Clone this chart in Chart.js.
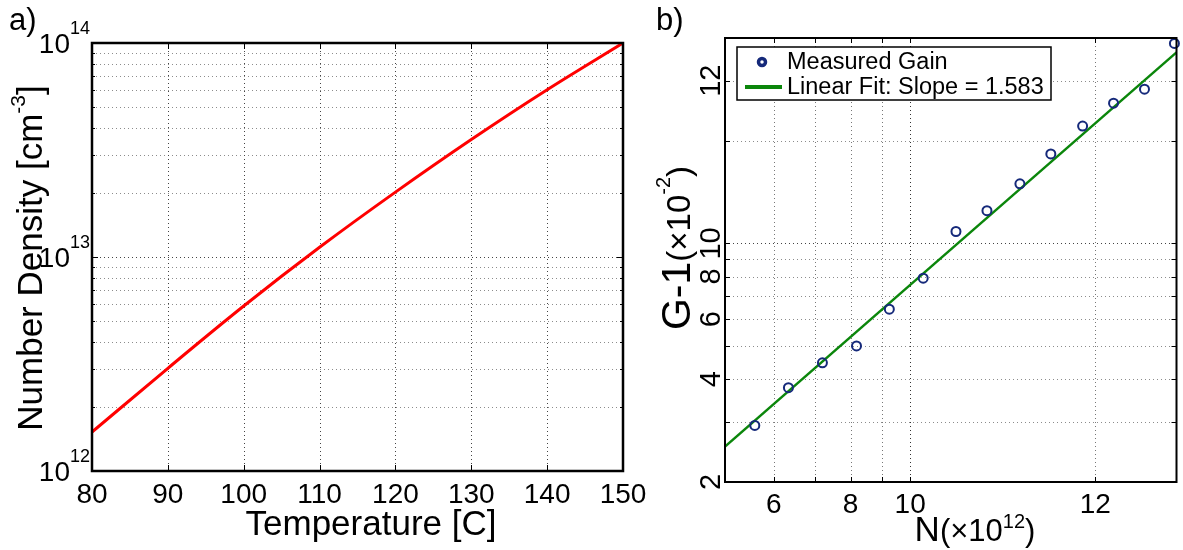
<!DOCTYPE html>
<html><head><meta charset="utf-8">
<script src="https://cdn.jsdelivr.net/npm/chart.js@4.4.1/dist/chart.umd.min.js"></script>
<style>
html,body{margin:0;padding:0;background:#fff;width:1183px;height:550px;overflow:hidden}
#ca{position:absolute;left:0;top:0}
#cb{position:absolute;left:640px;top:0}
</style></head><body>
<canvas id="ca" width="660" height="550"></canvas>
<canvas id="cb" width="543" height="550"></canvas>
<script>
// ---- panel a) data ----
const temperatureC = [80, 90, 100, 110, 120, 130, 140, 150];
const numberDensity = [1.52e12, 3.02e12, 5.9e12, 1.11e13, 2.01e13, 3.54e13, 6.05e13, 1.0e14];
const aXTicks = [80, 90, 100, 110, 120, 130, 140, 150];
const aYDecades = [1e12, 1e13, 1e14];
const aYDecadeExp = ['12', '13', '14'];
const aYMinor = [2e12, 3e12, 4e12, 5e12, 6e12, 7e12, 8e12, 9e12, 2e13, 3e13, 4e13, 5e13, 6e13, 7e13, 8e13, 9e13];

// ---- panel b) data ----
const nValues = [5.59, 6.34, 7.20, 8.18, 9.25, 10.50, 11.87, 13.33, 15.08, 16.93, 19.07, 21.41, 24.04, 26.89];
const gainValues = [2.93, 3.78, 4.47, 5.01, 6.42, 7.91, 10.84, 12.48, 14.96, 18.30, 22.08, 25.76, 28.31, 38.55];
const fitN = [5.0, 27.1];
const fitGain = [2.54, 36.3];
const bXGrid = [6, 7, 8, 9, 10, 20];
const bXTickVals = [6, 8, 10, 20];
const bXTickLabels = ['6', '8', '10', '12'];
const bYGrid = [3, 4, 5, 6, 7, 8, 9, 10, 20, 30];
const bYTickVals = [2, 4, 6, 8, 10, 30];
const bYTickLabels = ['2', '4', '6', '8', '10', '12'];

const FONT = '"Liberation Sans", Arial, Helvetica, sans-serif';
const F = s => s + 'px ' + FONT;

function richWidth(ctx, parts) {
  let w = 0;
  for (const p of parts) { ctx.font = p.f; w += ctx.measureText(p.t).width; }
  return w;
}
function drawRich(ctx, parts, x, y, align) {
  const w = richWidth(ctx, parts);
  let cx = align === 'center' ? x - w / 2 : (align === 'right' ? x - w : x);
  ctx.textAlign = 'left'; ctx.textBaseline = 'alphabetic';
  for (const p of parts) {
    ctx.font = p.f;
    ctx.fillText(p.t, cx, y + (p.dy || 0));
    cx += ctx.measureText(p.t).width;
  }
}
function seg(ctx, x1, y1, x2, y2) { ctx.beginPath(); ctx.moveTo(x1, y1); ctx.lineTo(x2, y2); ctx.stroke(); }
const crisp = v => Math.round(v) + 0.5;

const panelA = {
  id: 'panelA',
  beforeDatasetsDraw(chart) {
    const { ctx, chartArea: a, scales: { x, y } } = chart;
    ctx.save();
    ctx.lineWidth = 1; ctx.setLineDash([1, 3]);
    ctx.strokeStyle = '#8c8c8c';
    for (const v of aYMinor) { const py = crisp(y.getPixelForValue(v)); seg(ctx, a.left, py, a.right, py); }
    ctx.strokeStyle = '#444';
    for (const v of aYDecades.slice(1, -1)) { const py = crisp(y.getPixelForValue(v)); seg(ctx, a.left, py, a.right, py); }
    for (const v of aXTicks.slice(1, -1)) { const px = crisp(x.getPixelForValue(v)); seg(ctx, px, a.top, px, a.bottom); }
    ctx.restore();
  },
  afterDatasetsDraw(chart) {
    const { ctx, chartArea: a, scales: { x, y } } = chart;
    ctx.save();
    ctx.setLineDash([]);
    ctx.strokeStyle = '#000';
    ctx.lineWidth = 1;
    for (const v of aXTicks) { const px = crisp(x.getPixelForValue(v)); seg(ctx, px, a.bottom, px, a.bottom - 6); seg(ctx, px, a.top, px, a.top + 6); }
    for (const v of aYDecades) { const py = crisp(y.getPixelForValue(v)); seg(ctx, a.left, py, a.left + 6, py); seg(ctx, a.right, py, a.right - 6, py); }
    for (const v of aYMinor) { const py = crisp(y.getPixelForValue(v)); seg(ctx, a.left, py, a.left + 3, py); seg(ctx, a.right, py, a.right - 3, py); }
    ctx.lineWidth = 2.5;
    ctx.strokeRect(a.left, a.top, a.right - a.left, a.bottom - a.top);
    ctx.fillStyle = '#000';
    ctx.font = F(28); ctx.textAlign = 'center'; ctx.textBaseline = 'alphabetic';
    for (const v of aXTicks) ctx.fillText(String(v), x.getPixelForValue(v), 503);
    aYDecades.forEach((v, i) => {
      const py = y.getPixelForValue(v);
      drawRich(ctx, [{ t: '10', f: F(28) }, { t: aYDecadeExp[i], f: F(18), dy: -19 }], 90, py + 10, 'right');
    });
    drawRich(ctx, [{ t: 'Temperature [C]', f: F(35) }], 371, 535, 'center');
    ctx.save();
    ctx.translate(42, 258); ctx.rotate(-Math.PI / 2);
    drawRich(ctx, [{ t: 'Number Density [cm', f: F(35) }, { t: '-3', f: F(21), dy: -17 }, { t: ']', f: F(35) }], 0, 0, 'center');
    ctx.restore();
    ctx.font = F(31); ctx.textAlign = 'left';
    ctx.fillText('a)', 9, 30);
    ctx.restore();
  }
};

new Chart(document.getElementById('ca'), {
  type: 'line',
  data: {
    datasets: [{
      data: temperatureC.map((t, i) => ({ x: t, y: numberDensity[i] })),
      borderColor: '#ff0000', borderWidth: 3, pointRadius: 0,
      cubicInterpolationMode: 'monotone', fill: false
    }]
  },
  options: {
    responsive: false, animation: false, events: [],
    layout: { padding: { left: 92, right: 37, top: 43, bottom: 79 } },
    plugins: { legend: { display: false }, tooltip: { enabled: false } },
    scales: {
      x: { type: 'linear', min: 80, max: 150, display: false },
      y: { type: 'logarithmic', min: 1e12, max: 1e14, display: false }
    }
  },
  plugins: [panelA]
});

const NAVY = '#15297a';
const GREEN = '#0b860b';

const panelB = {
  id: 'panelB',
  beforeDatasetsDraw(chart) {
    const { ctx, chartArea: a, scales: { x, y } } = chart;
    ctx.save();
    ctx.lineWidth = 1; ctx.setLineDash([1, 3]);
    for (const v of bYGrid) { ctx.strokeStyle = v === 10 ? '#444' : '#8c8c8c'; const py = crisp(y.getPixelForValue(v)); seg(ctx, a.left, py, a.right, py); }
    for (const v of bXGrid) { ctx.strokeStyle = v === 10 ? '#333' : '#777'; const px = crisp(x.getPixelForValue(v)); seg(ctx, px, a.top, px, a.bottom); }
    ctx.restore();
  },
  afterDatasetsDraw(chart) {
    const { ctx, chartArea: a, scales: { x, y } } = chart;
    ctx.save();
    ctx.setLineDash([]);
    ctx.strokeStyle = '#000'; ctx.lineWidth = 1;
    for (const v of bXGrid) { const px = crisp(x.getPixelForValue(v)); seg(ctx, px, a.bottom, px, a.bottom - 5); seg(ctx, px, a.top, px, a.top + 5); }
    for (const v of bYGrid) { const py = crisp(y.getPixelForValue(v)); seg(ctx, a.left, py, a.left + 5, py); seg(ctx, a.right, py, a.right - 5, py); }
    ctx.lineWidth = 2;
    ctx.strokeRect(a.left, a.top, a.right - a.left, a.bottom - a.top);
    ctx.fillStyle = '#000';
    ctx.font = F(28); ctx.textAlign = 'center'; ctx.textBaseline = 'alphabetic';
    bXTickVals.forEach((v, i) => ctx.fillText(bXTickLabels[i], x.getPixelForValue(v), 513));
    bYTickVals.forEach((v, i) => {
      const py = y.getPixelForValue(v);
      ctx.save(); ctx.translate(80, py); ctx.rotate(-Math.PI / 2);
      ctx.font = F(29); ctx.textAlign = 'center'; ctx.textBaseline = 'alphabetic';
      ctx.fillText(bYTickLabels[i], 0, 0);
      ctx.restore();
    });
    drawRich(ctx, [{ t: 'N', f: F(35) }, { t: '(\u00d710', f: F(31) }, { t: '12', f: F(20), dy: -13 }, { t: ')', f: F(31) }], 335, 541, 'center');
    ctx.save();
    ctx.translate(50, 248); ctx.rotate(-Math.PI / 2);
    drawRich(ctx, [{ t: 'G-1', f: F(41) }, { t: '(\u00d710', f: F(33) }, { t: '-2', f: F(20), dy: -20 }, { t: ')', f: F(33) }], 0, 0, 'center');
    ctx.restore();
    ctx.font = F(31); ctx.textAlign = 'left';
    ctx.fillText('b)', 16, 30);
    // legend
    const lx = 97, ly = 47, lw = 314, lh = 53;
    ctx.fillStyle = '#fff'; ctx.fillRect(lx, ly, lw, lh);
    ctx.strokeStyle = '#000'; ctx.lineWidth = 1.5; ctx.strokeRect(lx, ly, lw, lh);
    ctx.strokeStyle = NAVY; ctx.lineWidth = 3.5;
    ctx.beginPath(); ctx.arc(122, 62, 3.5, 0, Math.PI * 2); ctx.stroke();
    ctx.strokeStyle = GREEN; ctx.lineWidth = 4;
    seg(ctx, 105, 87, 142, 87);
    ctx.fillStyle = '#000'; ctx.font = F(23.5); ctx.textAlign = 'left'; ctx.textBaseline = 'alphabetic';
    ctx.fillText('Measured Gain', 147, 69);
    ctx.fillText('Linear Fit: Slope = 1.583', 147, 94);
    ctx.restore();
  }
};

new Chart(document.getElementById('cb'), {
  type: 'scatter',
  data: {
    datasets: [
      {
        label: 'Measured Gain',
        data: nValues.map((n, i) => ({ x: n, y: gainValues[i] })),
        showLine: false, pointStyle: 'circle', pointRadius: 4.5, borderWidth: 2,
        borderColor: NAVY, backgroundColor: 'rgba(255,255,255,0)', clip: false, order: 0
      },
      {
        label: 'Linear Fit: Slope = 1.583',
        data: fitN.map((n, i) => ({ x: n, y: fitGain[i] })),
        showLine: true, pointRadius: 0, borderColor: GREEN, borderWidth: 2.5, order: 1
      }
    ]
  },
  options: {
    responsive: false, animation: false, events: [],
    layout: { padding: { left: 85, right: 4, top: 38, bottom: 68 } },
    plugins: { legend: { display: false }, tooltip: { enabled: false } },
    scales: {
      x: { type: 'logarithmic', min: 5, max: 27.1, display: false },
      y: { type: 'logarithmic', min: 2, max: 40, display: false }
    }
  },
  plugins: [panelB]
});
</script>
</body></html>
